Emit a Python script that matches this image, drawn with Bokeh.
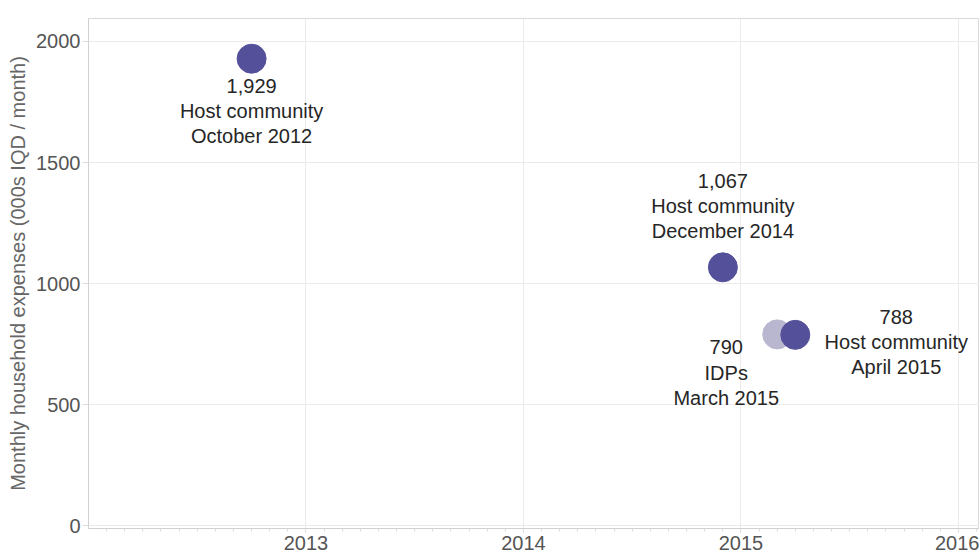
from bokeh.plotting import figure
from bokeh.models import Range1d, FixedTicker, ColumnDataSource
from bokeh.core.properties import value
from bokeh.embed import file_html
from bokeh.resources import INLINE

# ---- data ----
dates = [2012.75, 2014.917, 2015.167, 2015.25]          # Oct 2012, Dec 2014, Mar 2015, Apr 2015
expenses = [1929, 1067, 790, 788]
groups = ["Host community", "Host community", "IDPs", "Host community"]
periods = ["October 2012", "December 2014", "March 2015", "April 2015"]
year_ticks = [2013, 2014, 2015, 2016]
y_ticks = [0, 500, 1000, 1500, 2000]

FONT = "Liberation Sans"
DARK = "#55509a"
LIGHT = "#b9b6d0"

p = figure(width=979, height=554, output_backend="svg", toolbar_location=None,
           x_range=Range1d(2012.0, 2016.097), y_range=Range1d(-12, 2095),
           min_border_left=88, min_border_right=0, min_border_top=18, min_border_bottom=26)

p.background_fill_color = "white"
p.border_fill_color = "white"
p.outline_line_color = "#d9d9d9"

minor = [y + m / 12 for y in range(2012, 2017) for m in range(1, 12)]
p.xaxis.ticker = FixedTicker(ticks=year_ticks, minor_ticks=minor)
p.yaxis.ticker = FixedTicker(ticks=y_ticks)

for ax in (p.xaxis, p.yaxis):
    ax.axis_line_color = "#d0d0d0"
    ax.major_label_text_font = FONT
    ax.major_label_text_font_size = "20px"
    ax.major_label_text_color = "#555555"
    ax.major_tick_line_color = "#dcdcdc"
    ax.minor_tick_line_color = None
    ax.major_tick_in = 0

p.xaxis.major_tick_out = 4
p.yaxis.major_tick_out = 6
p.xaxis.minor_tick_line_color = "#dadada"
p.xaxis.minor_tick_out = 3
p.xaxis.minor_tick_in = 0
p.xaxis.major_label_standoff = 3
p.yaxis.major_label_standoff = 2

p.yaxis.axis_label = "Monthly household expenses (000s IQD / month)"
p.yaxis.axis_label_text_font = FONT
p.yaxis.axis_label_text_font_size = "20px"
p.yaxis.axis_label_text_font_style = "normal"
p.yaxis.axis_label_text_color = "#666666"
p.yaxis.axis_label_standoff = 4

p.xgrid.grid_line_color = "#ebebeb"
p.ygrid.grid_line_color = "#ebebeb"

colors = [LIGHT if g == "IDPs" else DARK for g in groups]
labels = [f"{v:,}\n{g}\n{d}" for v, g, d in zip(expenses, groups, periods)]

# draw IDPs first so host community point lies on top
order = sorted(range(len(dates)), key=lambda i: 0 if groups[i] == "IDPs" else 1)
src_ordered = ColumnDataSource(dict(x=[dates[i] for i in order], y=[expenses[i] for i in order],
                                    c=[colors[i] for i in order]))
p.scatter("x", "y", source=src_ordered, size=29, fill_color="c", line_color="c", line_width=1)

# label placements (screen offsets)
x_off = [0, 0, -51, 101]
y_off = [16, -25, 2, -29]
base = ["top", "bottom", "top", "top"]
for i in range(len(dates)):
    p.text(x=[dates[i]], y=[expenses[i]], text=[labels[i]], x_offset=x_off[i], y_offset=y_off[i],
           text_align="center", text_baseline=base[i], text_font=value(FONT),
           text_font_size="20px", text_color="#262626", text_line_height=1.15)

open("out.html", "w").write(file_html(p, INLINE))
